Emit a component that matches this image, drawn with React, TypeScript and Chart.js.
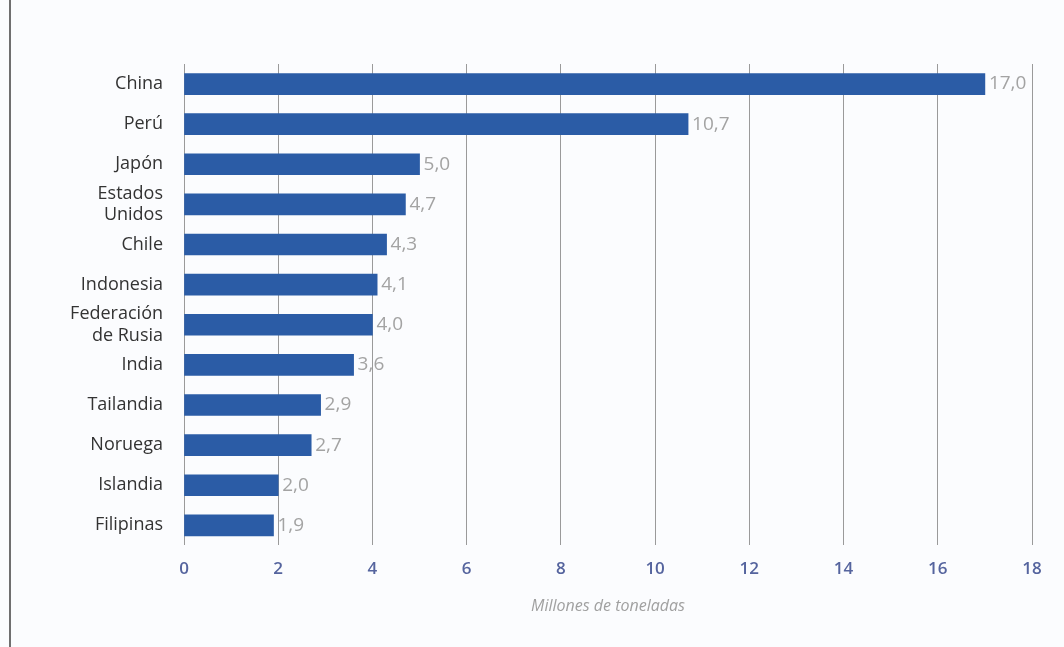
import React, { useEffect, useRef } from "react";
import { Chart, registerables } from "chart.js";

Chart.register(...registerables);

const categories: (string | string[])[] = [
  "China",
  "Perú",
  "Japón",
  ["Estados", "Unidos"],
  "Chile",
  "Indonesia",
  ["Federación", "de Rusia"],
  "India",
  "Tailandia",
  "Noruega",
  "Islandia",
  "Filipinas",
];
const values: number[] = [17.0, 10.7, 5.0, 4.7, 4.3, 4.1, 4.0, 3.6, 2.9, 2.7, 2.0, 1.9];
const xTicks: number[] = [0, 2, 4, 6, 8, 10, 12, 14, 16, 18];
const axisTitle = "Millones de toneladas";

const FONT = "'Open Sans', 'Noto Sans', sans-serif";

const valueLabels = {
  id: "valueLabels",
  afterDatasetsDraw(chart: any) {
    const ctx = chart.ctx;
    const meta = chart.getDatasetMeta(0);
    ctx.save();
    ctx.font = `19px ${FONT}`;
    ctx.fillStyle = "#a3a3a3";
    ctx.textAlign = "left";
    ctx.textBaseline = "middle";
    meta.data.forEach((bar: any, i: number) => {
      const txt = values[i].toFixed(1).replace(".", ",");
      ctx.fillText(txt, bar.x + 4, bar.y);
    });
    ctx.restore();
  },
};

export default function App() {
  const ref = useRef<HTMLCanvasElement | null>(null);
  useEffect(() => {
    if (!ref.current) return;
    const chart = new Chart(ref.current, {
      type: "bar",
      data: {
        labels: categories,
        datasets: [
          {
            data: values,
            backgroundColor: "#2b5ca6",
            borderWidth: 0,
            barThickness: 21,
          },
        ],
      },
      options: {
        indexAxis: "y",
        animation: false,
        responsive: false,
        maintainAspectRatio: false,
        layout: { padding: { left: 0, right: 32, top: 64, bottom: 31 } },
        plugins: {
          legend: { display: false },
          tooltip: { enabled: false },
        },
        scales: {
          x: {
            min: 0,
            max: 18,
            afterBuildTicks: (axis: any) => {
              axis.ticks = xTicks.map((v) => ({ value: v }));
            },
            grid: { color: "#9a9a9a", lineWidth: 1, drawTicks: false },
            border: { display: false },
            ticks: {
              padding: 14,
              color: "#55649e",
              font: { family: FONT, size: 17, weight: "600" },
            },
            title: {
              display: true,
              text: axisTitle,
              color: "#a0a0a0",
              font: { family: FONT, size: 16, style: "italic" },
              padding: { top: 3, bottom: 0 },
            },
          },
          y: {
            afterFit: (axis: any) => {
              axis.width = 184;
            },
            grid: { display: false, drawTicks: false },
            border: { display: false },
            ticks: {
              autoSkip: false,
              padding: 21,
              color: "#333333",
              font: { family: FONT, size: 18, lineHeight: 1.2 },
            },
          },
        },
      },
      plugins: [valueLabels],
    });
    return () => chart.destroy();
  }, []);

  return (
    <div
      style={{
        position: "fixed",
        left: 0,
        top: 0,
        width: 1064,
        height: 647,
        background: "#fbfcfe",
      }}
    >
      <div
        style={{
          position: "absolute",
          left: 9,
          top: 0,
          width: 2,
          height: 647,
          background: "#6f6f6f",
        }}
      />
      <canvas ref={ref} width={1064} height={647} style={{ position: "absolute", left: 0, top: 0 }} />
    </div>
  );
}
